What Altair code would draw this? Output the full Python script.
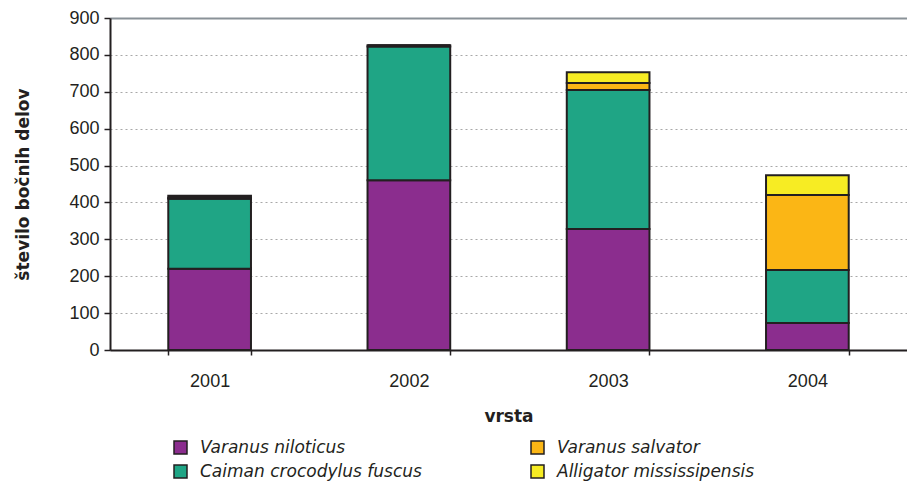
import altair as alt
import pandas as pd

years = ["2001", "2002", "2003", "2004"]
species = ["Varanus niloticus", "Caiman crocodylus fuscus", "Varanus salvator", "Alligator mississipensis"]
niloticus = [220, 460, 328, 73]
caiman = [190, 363, 377, 144]
salvator = [3, 3, 19, 203]
alligator = [5, 0, 29, 54]
y_ticks = [0, 100, 200, 300, 400, 500, 600, 700, 800, 900]
colors = ["#8B2D8E", "#1FA585", "#FBB615", "#F7EC23"]

rows = []
for i, y in enumerate(years):
    for k, (name, vals) in enumerate(zip(species, [niloticus, caiman, salvator, alligator])):
        rows.append({"vrsta": y, "species": name, "value": vals[i], "ord": k})
df = pd.DataFrame(rows)

chart = alt.Chart(df).mark_bar(stroke="#231F20", strokeWidth=2).encode(
    x=alt.X("vrsta:N", sort=years, title="vrsta",
            scale=alt.Scale(paddingInner=0.585, paddingOuter=0.2925),
            axis=alt.Axis(labelAngle=0, tickBand="extent", grid=False,
                          domainColor="#231F20", domainWidth=2,
                          tickColor="#231F20", tickWidth=1.5, tickSize=5,
                          labelPadding=17, labelFont="Liberation Sans", labelFontSize=18,
                          labelColor="#231F20",
                          titleFont="DejaVu Sans", titleFontSize=17, titleFontWeight="bold",
                          titleColor="#231F20", titlePadding=18)),
    y=alt.Y("value:Q", stack="zero", title="število bočnih delov",
            scale=alt.Scale(domain=[0, 900], nice=False),
            axis=alt.Axis(values=y_ticks, grid=True,
                          gridDash={"condition": {"test": "datum.value === 900", "value": []}, "value": [2, 3]},
                          gridColor={"condition": {"test": "datum.value === 900", "value": "#8A9298"}, "value": "#A8A8A8"},
                          gridWidth={"condition": {"test": "datum.value === 900", "value": 2}, "value": 1},
                          domainColor="#231F20", domainWidth=2,
                          tickColor="#231F20", tickWidth=1.5, tickSize=6,
                          labelPadding=5, labelFont="Liberation Sans", labelFontSize=18,
                          labelColor="#231F20",
                          titleFont="DejaVu Sans", titleFontSize=17, titleFontWeight="bold",
                          titleColor="#231F20", titlePadding=36)),
    color=alt.Color("species:N", scale=alt.Scale(domain=species, range=colors),
                    legend=alt.Legend(title=None, orient="none", legendX=62, legendY=421,
                                      columns=2, gridAlign="all", columnPadding=106, rowPadding=5,
                                      symbolType="square", symbolSize=169, symbolStrokeColor="#231F20",
                                      symbolStrokeWidth=1.5, symbolOpacity=1, labelOffset=11,
                                      labelFont="DejaVu Sans", labelFontSize=17, labelFontStyle="italic",
                                      labelColor="#231F20", labelLimit=400)),
    order=alt.Order("ord:Q", sort="ascending"),
).properties(
    width=797, height=332,
    autosize=alt.AutoSizeParams(type="none"),
    padding={"left": 102, "top": 10, "right": 0, "bottom": 132},
).configure_view(stroke=None).configure(background="white")

chart.save("out.html", embed_options={"renderer": "svg", "actions": False})
